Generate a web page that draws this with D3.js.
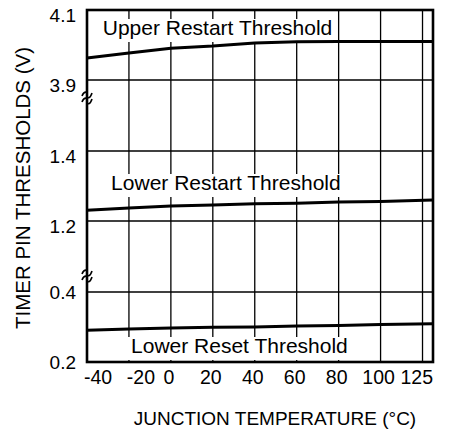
<!DOCTYPE html>
<meta charset="utf-8">
<style>
	body { margin: 0; background: white; }
	text { font-family: "Liberation Sans", Arial, sans-serif; fill: black; }
</style>
<body>
	<script src="https://d3js.org/d3.v7.min.js"></script>
	<script>

		// data
		var temps = [-40, -20, 0, 20, 40, 60, 80, 100, 125];
		var upperRestart = [3.963, 3.977, 3.991, 3.997, 4.006, 4.009, 4.010, 4.010, 4.010];
		var lowerRestart = [1.231, 1.237, 1.243, 1.246, 1.249, 1.251, 1.254, 1.256, 1.260];
		var lowerReset = [0.291, 0.294, 0.297, 0.299, 0.300, 0.303, 0.304, 0.307, 0.309];

		var gridTemps = [-20, 0, 20, 40, 60, 80, 100, 120];
		var xTickValues = [-40, -20, 0, 20, 40, 60, 80, 100, 125];
		var xTickLabels = ["-40", "-20", "0", "20", "40", "60", "80", "100", "125"];

		// broken y axis: three pieces, top to bottom
		var segLow = [3.9, 1.2, 0.2];
		var segHigh = [4.1, 1.4, 0.4];
		var segLowLabels = ["3.9", "1.2", "0.2"];
		var segHighLabels = ["4.1", "1.4", "0.4"];

		var seriesNames = ["Upper Restart Threshold", "Lower Restart Threshold", "Lower Reset Threshold"];
		var seriesValues = [upperRestart, lowerRestart, lowerReset];

		var width = 452;
		var height = 440;
		var margin = {top: 10, right: 19, left: 87};
		var segHeight = 70;
		var segGap = 71;

		var svg = d3.select("body").append("svg")
			.attr("width", width)
			.attr("height", height);

		var x = d3.scaleLinear()
			.domain([-40, 125])
			.range([margin.left, width - margin.right]);

		var yScales = segLow.map(function(lo, i) {
			var top = margin.top + i * (segHeight + segGap);
			return d3.scaleLinear().domain([lo, segHigh[i]]).range([top + segHeight, top]);
		});

		var plotTop = yScales[0](segHigh[0]);
		var plotBottom = yScales[2](segLow[2]);

		// vertical grid
		svg.selectAll("line.vgrid")
			.data(gridTemps)
			.enter()
			.append("line")
			.attr("class", "vgrid")
			.attr("x1", function(d) { return x(d); })
			.attr("x2", function(d) { return x(d); })
			.attr("y1", plotTop)
			.attr("y2", plotBottom)
			.attr("stroke", "black")
			.attr("stroke-width", 1.3);

		// horizontal grid at the piece edges
		var hLines = [];
		yScales.forEach(function(s, i) {
			hLines.push(s(segLow[i]));
			hLines.push(s(segHigh[i]));
		});
		svg.selectAll("line.hgrid")
			.data(hLines)
			.enter()
			.append("line")
			.attr("class", "hgrid")
			.attr("x1", x(-40))
			.attr("x2", x(125))
			.attr("y1", function(d) { return d; })
			.attr("y2", function(d) { return d; })
			.attr("stroke", "black")
			.attr("stroke-width", 1.3);

		// series labels with white boxes behind
		var labelX = [-32.5, -28.5, -19];
		var labelY = [35, 190, 353];
		var labels = svg.selectAll("g.lab")
			.data(seriesNames)
			.enter()
			.append("g")
			.attr("class", "lab");
		labels.append("rect").attr("fill", "white");
		labels.append("text")
			.text(function(d) { return d; })
			.attr("x", function(d, i) { return x(labelX[i]); })
			.attr("y", function(d, i) { return labelY[i]; })
			.attr("font-size", "21px");
		labels.each(function() {
			var g = d3.select(this);
			var b = g.select("text").node().getBBox();
			g.select("rect")
				.attr("x", b.x - 5)
				.attr("y", b.y + 3)
				.attr("width", b.width + 9)
				.attr("height", b.height);
		});

		// data lines
		var line = d3.line()
			.x(function(d) { return x(d[0]); })
			.y(function(d) { return d[2](d[1]); });

		svg.selectAll("path.series")
			.data(seriesValues)
			.enter()
			.append("path")
			.attr("class", "series")
			.attr("d", function(vals, i) {
				return line(vals.map(function(v, j) { return [temps[j], v, yScales[i]]; }));
			})
			.attr("fill", "none")
			.attr("stroke", "black")
			.attr("stroke-width", 3);

		// frame
		svg.append("rect")
			.attr("x", x(-40))
			.attr("y", plotTop)
			.attr("width", x(125) - x(-40))
			.attr("height", plotBottom - plotTop)
			.attr("fill", "none")
			.attr("stroke", "black")
			.attr("stroke-width", 2.6);

		// axis break marks
		var breakY = [yScales[0](segLow[0]) + 17, yScales[2](segHigh[2]) - 17];
		svg.selectAll("path.brk")
			.data(breakY)
			.enter()
			.append("path")
			.attr("class", "brk")
			.attr("d", function(d) {
				var x0 = x(-40) - 5;
				return "M" + x0 + "," + (d - 1) + " c2,-5 5,-5 5,-1 s3,4 5,-2" +
					"M" + x0 + "," + (d + 5) + " c2,-5 5,-5 5,-1 s3,4 5,-2";
			})
			.attr("fill", "none")
			.attr("stroke", "black")
			.attr("stroke-width", 1.6);

		// y tick labels
		var yLabs = [];
		yScales.forEach(function(s, i) {
			var dy = i < 2 ? 12 : 7;
			yLabs.push([segHighLabels[i], s(segHigh[i]) + dy]);
			yLabs.push([segLowLabels[i], s(segLow[i]) + dy]);
		});
		svg.selectAll("text.ytick")
			.data(yLabs)
			.enter()
			.append("text")
			.attr("class", "ytick")
			.text(function(d) { return d[0]; })
			.attr("x", x(-40) - 11)
			.attr("y", function(d) { return d[1]; })
			.attr("text-anchor", "end")
			.attr("font-size", "19px");

		// x tick labels
		svg.selectAll("text.xtick")
			.data(xTickValues)
			.enter()
			.append("text")
			.attr("class", "xtick")
			.text(function(d, i) { return xTickLabels[i]; })
			.attr("x", function(d, i) {
				if (i == 0) return x(d) - 3;
				if (i == 1) return x(d) + 12;
				if (i == xTickValues.length - 1) return x(d);
				return x(d) - 2;
			})
			.attr("y", plotBottom + 22)
			.attr("text-anchor", function(d, i) {
				if (i == 0) return "start";
				if (i == xTickValues.length - 1) return "end";
				return "middle";
			})
			.attr("font-size", "19.5px");

		// axis titles
		svg.append("text")
			.text("JUNCTION TEMPERATURE (°C)")
			.attr("x", 275)
			.attr("y", 425)
			.attr("text-anchor", "middle")
			.attr("font-size", "19px");

		svg.append("text")
			.text("TIMER PIN THRESHOLDS (V)")
			.attr("transform", "translate(30,188) rotate(-90)")
			.attr("text-anchor", "middle")
			.attr("font-size", "20.5px");

	</script>
</body>
